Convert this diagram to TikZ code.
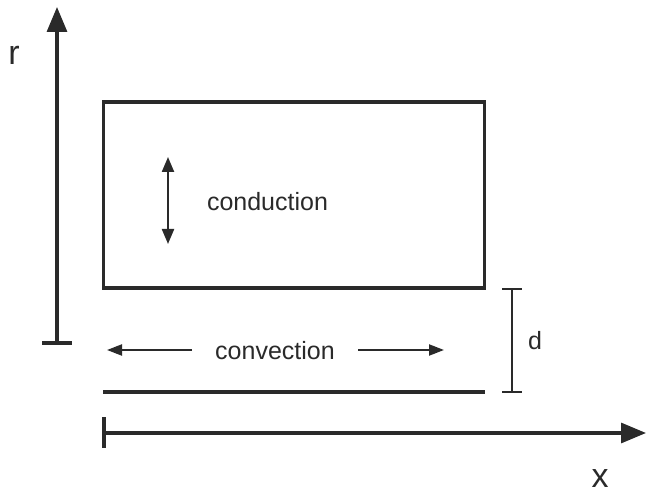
\documentclass[tikz,border=0pt]{standalone}
\usepackage{fontspec}
\setmainfont{Liberation Sans}
\usetikzlibrary{arrows.meta}
\definecolor{ink}{HTML}{2A2A2A}
\tikzset{
  axis/.style={draw=ink, line width=3.2pt, -{Triangle[length=25pt,width=20pt]}},
  smallarrow/.style={draw=ink, line width=2.2pt, -{Triangle[length=15pt,width=11pt]}},
  bothsmall/.style={draw=ink, line width=2.2pt, {Triangle[length=15pt,width=12pt]}-{Triangle[length=15pt,width=12pt]}},
  heavy/.style={draw=ink, line width=3.2pt},
  thin/.style={draw=ink, line width=2pt},
  lbl/.style={text=ink, inner sep=0pt, font=\fontsize{25}{29}\selectfont},
  biglbl/.style={text=ink, inner sep=0pt, font=\fontsize{34}{38}\selectfont}
}
\begin{document}
\begin{tikzpicture}[x=1pt,y=-1pt]
\useasboundingbox (0,0) rectangle (646,497);
% r axis
\coordinate (r0) at (57,343);
\coordinate (r1) at (57,7);
\coordinate (rt1) at (42,343);
\coordinate (rt2) at (72,343);
\draw[axis] (r0) -- (r1);
\draw[heavy] (rt1) -- (rt2);
\node[biglbl] (rl) at (14,55) {r};
% rectangle
\node[draw=ink, line width=3.2pt, minimum width=381pt, minimum height=186pt, inner sep=0pt, anchor=north west] (box) at (101.5,100.5) {};
% conduction
\coordinate (c0) at (168,157);
\coordinate (c1) at (168,244);
\draw[bothsmall] (c0) -- (c1);
\node[lbl] (cond) at (267.5,202) {conduction};
% convection
\node[lbl] (conv) at (275,351) {convection};
\coordinate (l0) at (192,350);
\coordinate (l1) at (107,350);
\coordinate (q0) at (358,350);
\coordinate (q1) at (444,350);
\draw[smallarrow] (l0) -- (l1);
\draw[smallarrow] (q0) -- (q1);
% bottom line
\coordinate (b0) at (103,392);
\coordinate (b1) at (485,392);
\draw[heavy] (b0) -- (b1);
% d bar
\coordinate (d0) at (512,289);
\coordinate (d1) at (512,392);
\draw[thin] (d0) -- (d1);
\draw[thin] (502,289) -- (522,289);
\draw[thin] (502,392) -- (522,392);
\node[lbl] (dl) at (535,341) {d};
% x axis
\coordinate (x0) at (104,433);
\coordinate (x1) at (646,433);
\draw[axis] (x0) -- (x1);
\draw[heavy] (104,417) -- (104,448);
\node[biglbl] (xl) at (600,479) {x};
\end{tikzpicture}
\end{document}
